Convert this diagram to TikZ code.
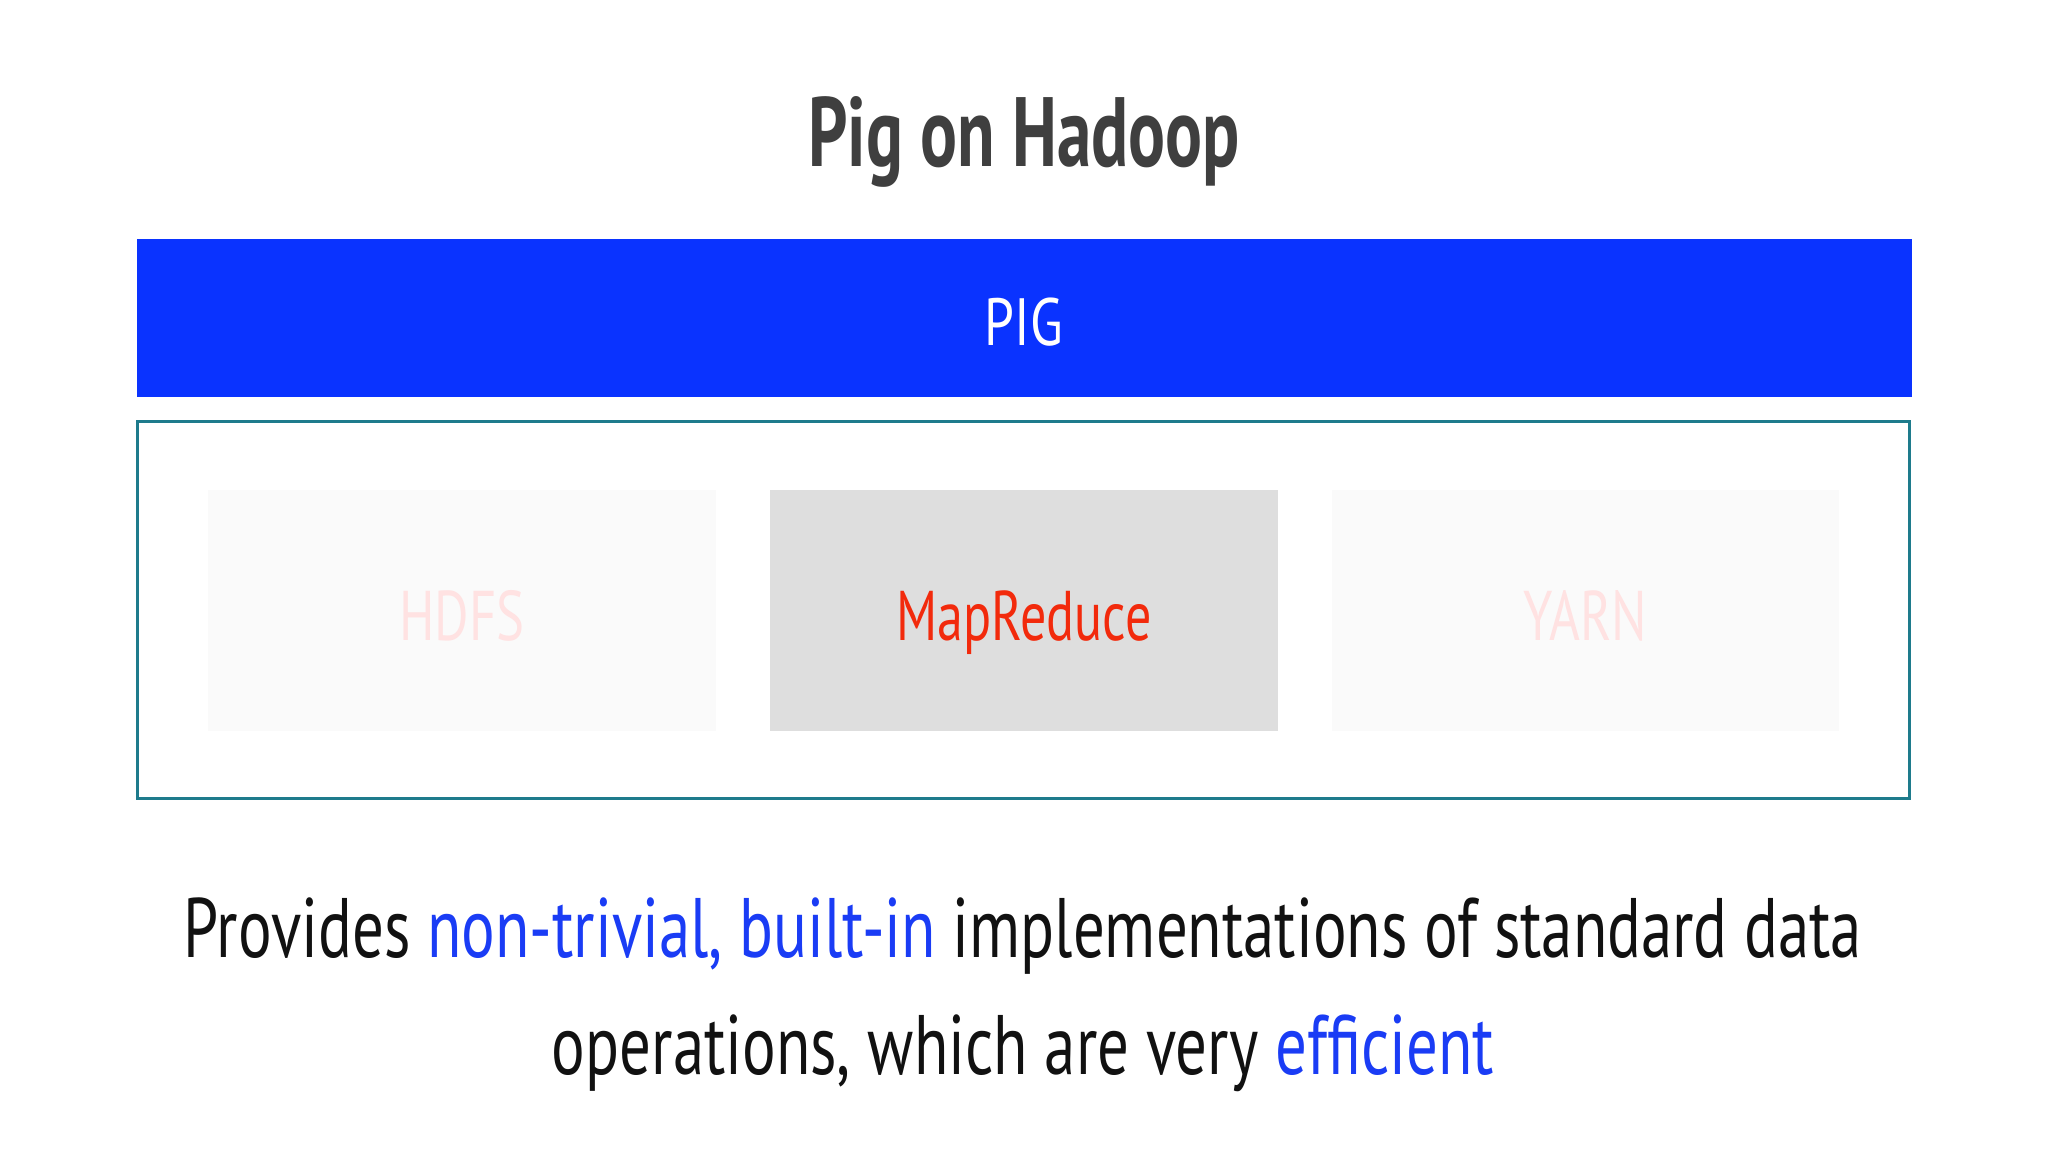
\documentclass[tikz,border=0pt]{standalone}
\usepackage{fontspec}
\setmainfont{PT Sans}
\definecolor{pigblue}{HTML}{0A33FF}
\definecolor{tealline}{HTML}{1E7B8C}
\definecolor{mrgray}{HTML}{DEDEDE}
\definecolor{faintbox}{HTML}{FAFAFA}
\definecolor{fainttext}{HTML}{FFE2E2}
\definecolor{mrred}{HTML}{F22A0C}
\definecolor{hlblue}{HTML}{1A3CF5}
\definecolor{titlegray}{HTML}{3F3F3F}
\definecolor{bodyblack}{HTML}{111111}
\tikzset{
  layerbox/.style={inner sep=0pt, outer sep=0pt},
  compbox/.style={inner sep=0pt, outer sep=0pt, minimum width=5.07cm, minimum height=2.41cm},
}
\begin{document}
\begin{tikzpicture}[x=0.01cm,y=-0.01cm]
\useasboundingbox (0,0) rectangle (2048,1152);
\fill[white] (0,0) rectangle (2048,1152);
% title
\node[anchor=base, text=titlegray, font=\fontsize{28}{30}\selectfont\bfseries, inner sep=0pt] (title) at (1024,167) {\scalebox{0.70}[1]{Pig on Hadoop}};
% PIG bar
\node[layerbox, fill=pigblue, minimum width=17.73cm, minimum height=1.58cm] (pig) at (1024.5,318) {};
\node[anchor=base, text=white, font=\fontsize{19}{22}\selectfont, inner sep=0pt] (pigtext) at (1024,346) {\scalebox{0.8}[1]{PIG}};
% Hadoop frame
\node[layerbox, draw=tealline, line width=0.85pt, minimum width=17.71cm, minimum height=3.76cm] (hadoop) at (1023.5,610) {};
% components
\node[compbox, fill=faintbox] (hdfs) at (462,610.5) {};
\node[compbox, fill=mrgray] (mr) at (1024,610.5) {};
\node[compbox, fill=faintbox] (yarn) at (1585.5,610.5) {};
\node[anchor=base, text=fainttext, font=\fontsize{20}{24}\selectfont, inner sep=0pt] (hdfstext) at (462,640) {\scalebox{0.75}[1]{HDFS}};
\node[anchor=base, text=mrred, font=\fontsize{20}{24}\selectfont, inner sep=0pt] (mrtext) at (1024,640) {\scalebox{0.74}[1]{MapReduce}};
\node[anchor=base, text=fainttext, font=\fontsize{20}{24}\selectfont, inner sep=0pt] (yarntext) at (1585.5,640) {\scalebox{0.75}[1]{YARN}};
% bottom text
\node[anchor=base, text=bodyblack, font=\fontsize{24}{28}\selectfont, inner sep=0pt] (line1) at (1023,957) {\scalebox{0.745}[1]{Provides \textcolor{hlblue}{non-trivial, built-in} implementations of standard data}};
\node[anchor=base, text=bodyblack, font=\fontsize{24}{28}\selectfont, inner sep=0pt] (line2) at (1023,1074) {\scalebox{0.745}[1]{operations, which are very \textcolor{hlblue}{efficient}}};
\end{tikzpicture}
\end{document}
